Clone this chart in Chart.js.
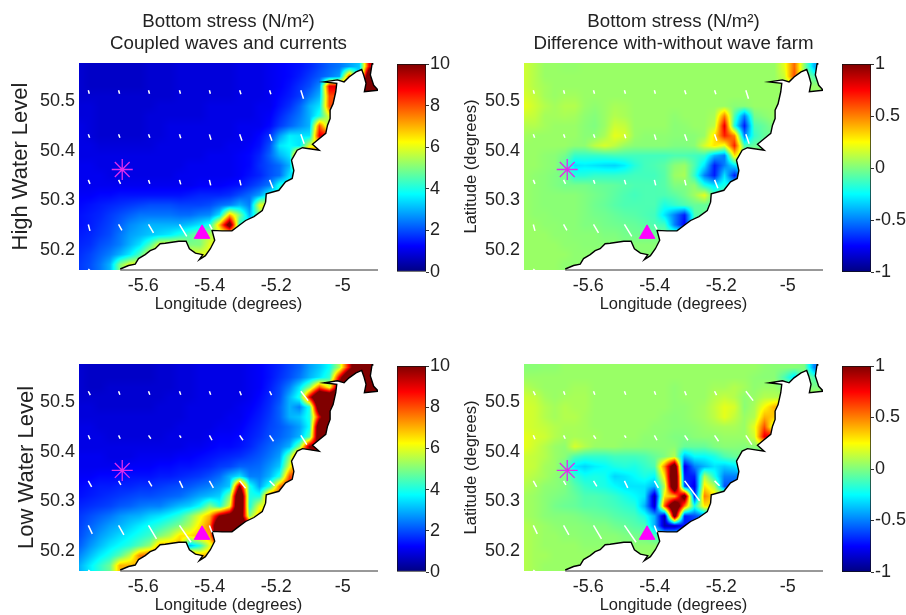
<!DOCTYPE html>
<html>
<head>
<meta charset="utf-8">
<style>
body { margin: 0; background: #fff; width: 906px; height: 615px; overflow: hidden; position: relative; }
canvas { position: absolute; }
</style>
<script src="https://cdn.jsdelivr.net/npm/chart.js@4/dist/chart.umd.min.js"></script>
</head>
<body>
<script>
// grid of the stress fields: rows run north to south, short rows repeat their last value over land
const gridLon = [-5.79,-5.76,-5.73,-5.70,-5.67,-5.64,-5.61,-5.58,-5.55,-5.52,-5.49,-5.46,-5.43,-5.40,-5.37,-5.34,-5.31,-5.28,-5.25,-5.22,-5.19,-5.16,-5.13,-5.10,-5.07,-5.04,-5.01,-4.98,-4.95,-4.92];
const gridLat = [50.57,50.55,50.53,50.51,50.49,50.47,50.45,50.43,50.41,50.39,50.37,50.35,50.33,50.31,50.29,50.27,50.25,50.23,50.21,50.19,50.17];

const highStress = [
[.8,.7,.7,.7,.7,.7,.7,.8,.8,.8,.9,.9,.9,.9,.9,.9,1,1,1,1.1,1.2,1.3,1.4,1.6,1.9,2.2,2.4,2.8,3.2,9],
[.8,.7,.7,.7,.7,.7,.7,.8,.8,.8,.9,.9,.9,.9,.9,.9,1,1,1,1.1,1.2,1.3,1.5,1.8,2.1,2.4,2.8,8,3,13],
[.8,.7,.7,.7,.7,.7,.7,.8,.8,.8,.9,.9,.9,.9,.9,.9,1,1,1,1.1,1.2,1.4,1.7,2,2.6,9,9,7,13,13],
[.8,.8,.8,.8,.8,.8,.8,.8,.8,.8,.9,.9,.9,.9,.9,.9,1,1,1,1.1,1.3,1.5,1.8,2.4,3,8,8,6,13,13],
[.9,.9,.8,.8,.8,.8,.8,.8,.9,.9,.9,.9,.9,1,1,1,1,1,1.1,1.1,1.4,1.7,2.2,3,3.5,8],
[.9,.9,.8,.8,.8,.8,.8,.9,.9,.9,.9,.9,.9,1,1,1,1,1,1.1,1.2,1.6,2,2.4,3,4,6],
[1,.9,.8,.8,.8,.8,.8,.9,.9,1,1,1,1,1,1,1,1.1,1.1,1.1,1.3,1.8,2.2,2.6,3,8,5],
[1,.9,.8,.8,.8,.8,.8,.9,.9,1,1,1,1,1,1,1,1.1,1.1,1.3,1.7,2.8,3.6,3.5,3.5,9],
[1,1,.9,.9,.9,.9,.9,.9,1,1,1,1,1,1,1,1.1,1.1,1.2,1.4,2,3.5,3.8,3.5,6],
[1,1,1,1,1,1,1,1,1,1,1,1,1,1.1,1.1,1.1,1.2,1.3,1.6,2.2,3,3.5,9],
[1.1,1.1,1,1,1,1,1,1,1,1,1,1.1,1.1,1.1,1.1,1.1,1.2,1.3,1.7,2,2.3,3,8],
[1.1,1.1,1.1,1,1,1,1,1,1,1,1.1,1.1,1.1,1.1,1.1,1.1,1.2,1.4,1.6,2,2.3,3.5,3],
[1.1,1.1,1.1,1.1,1.1,1.1,1.1,1.1,1.1,1.1,1.1,1.1,1.2,1.2,1.2,1.3,1.4,1.7,2,2.4,4],
[1.2,1.2,1.3,1.3,1.4,1.4,1.4,1.4,1.4,1.4,1.4,1.5,1.6,1.6,1.6,1.7,2,2.3,2.8,4],
[1.3,1.4,1.5,1.6,1.7,1.8,1.9,2,2,2,1.9,1.9,1.9,2,2.3,2.5,3,2.5,6],
[1.4,1.5,1.6,1.8,2,2.2,2.4,2.4,2.4,2.4,2.3,2.3,2.5,2.6,3.5,7,5,3,5],
[1.4,1.5,1.7,1.9,2.2,2.6,2.8,3,3,3,3,3.2,3.5,4,7,11,4],
[1.5,1.6,1.8,2,2.4,2.8,3,3.2,3.4,3.6,4,4.5,5,5.5],
[1.6,1.7,2,2.2,2.5,3,3.5,4.5,6,6,6,5,5,6],
[1.7,1.9,2.2,2.5,3,3.6,4.5,6],
[1.8,2,2.4,3,5,6]
];
const highDiff = [
[.15,.1,.05,.05,.04,.04,.05,.05,.05,.05,.05,.05,.05,.05,.05,.05,.05,.05,.05,.05,.05,.05,.05,.05,.05,.05,.2,.55,.02,-.4],
[.15,.1,.05,.05,.05,.05,.05,.05,.05,.05,.05,.05,.05,.05,.05,.05,.05,.05,.05,.05,.05,.05,.05,.05,.05,.05,.15,.6,.02,-.1],
[.15,.1,.07,.05,.05,.05,.05,.05,.05,.05,.05,.05,.05,.05,.05,.05,.05,.05,.05,.05,.05,.05,.05,.05,.05,.05],
[.17,.13,.07,.05,.07,.07,.05,.05,.05,.05,.05,.05,.05,.05,.05,.05,.05,.05,.05,.05,.05,.05,.05,.05,.05,.05],
[.2,.15,.1,.07,.1,.1,.05,.03,.05,.08,.07,.05,.05,.05,.05,.05,.05,.05,.05,.05,.05,.02,.02,.05,.05,.05],
[.15,.13,.07,.07,.08,.07,.03,.01,.05,.1,.08,.05,.05,.05,.05,.03,.05,.05,.05,.08,.5,-.1,-.5,-.02,.02,.05],
[.1,.1,.07,.05,.05,.05,.02,0,.05,.15,.13,.05,.05,.05,.05,.02,.03,.05,.05,.12,.8,-.2,-.7,-.1,-.05,.02],
[.07,.05,.05,.05,.05,.05,.02,.02,.08,.2,.17,.05,.03,.03,.03,.02,.02,.02,.05,.3,.7,.5,-.5,-.15,-.05],
[.05,.05,.05,.05,.05,.03,.03,.12,.17,.12,.05,.02,.02,.02,.02,0,0,.02,.17,.3,.2,.7,-.1,-.05],
[.05,.05,.03,.02,-.02,-.15,-.15,-.15,-.14,-.12,-.12,-.12,-.12,-.12,-.12,-.1,-.1,-.12,-.15,-.4,-.5,.3,.1],
[.05,.05,.03,.02,-.08,-.3,-.28,-.3,-.32,-.33,-.28,-.18,-.12,-.1,-.07,.02,.05,-.1,-.3,-.7,-.5,-.3,-.2],
[.05,.03,.02,0,-.02,-.18,-.18,-.15,-.15,-.15,-.14,-.12,-.12,-.12,-.08,.05,.08,-.15,-.5,-.7,-.3,-.7,-.3],
[.05,.03,.02,0,-.02,-.02,-.02,-.04,-.05,-.06,-.08,-.1,-.1,-.1,-.08,0,0,.03,-.2,-.3,-.2,-.3],
[.05,.03,.02,.02,.02,.02,0,-.02,-.04,-.07,-.1,-.12,-.1,-.1,-.1,-.07,-.02,.06,.2,-.1,-.05],
[.05,.03,.02,.02,.02,.02,0,-.03,-.05,-.08,-.1,-.1,-.1,-.1,-.2,-.15,-.1,-.05,-.05,-.07],
[.05,.03,.03,.02,.02,.02,0,-.02,-.03,-.05,-.07,-.08,-.1,-.12,-.3,-.5,-.7,-.1,-.05],
[.05,.05,.03,.03,.02,.02,0,0,-.02,-.03,-.04,-.05,-.07,-.1,-.12,-.5,-.75,-.1],
[.05,.05,.05,.03,.03,.02,.02,.02,0,0,-.02,-.03,-.03,-.03,-.03],
[.05,.05,.05,.05,.03,.03,.02,.02,.02,.02,0,.02,.02,.02],
[.05,.05,.05,.05,.05,.03,.03,.03,.02],
[.05,.05,.05,.05,.03]
];
const lowStress = [
[.8,.7,.7,.7,.7,.7,.7,.7,.8,.8,.9,.9,1,1,1,1,1,1.1,1.2,1.4,1.6,1.9,2.2,2.8,3.2,3.8,5.5,9,13,13],
[.8,.7,.7,.7,.7,.7,.7,.7,.8,.8,.9,.9,1,1,1,1,1,1.1,1.2,1.4,1.7,2,2.4,3,3.5,4.2,9,13,13,11],
[.8,.7,.7,.8,.8,.8,.8,.8,.8,.8,.9,.9,1,1,1,1,1,1.1,1.2,1.5,1.9,2.5,3.5,5,8,6,11,13,13,13],
[.8,.8,.8,.8,.8,.8,.8,.8,.8,.9,.9,.9,1,1,1,1,1,1.1,1.3,1.6,2,3,4,9,13,13,13],
[.9,.9,.8,.8,.8,.8,.8,.8,.9,.9,.9,1,1,1,1,1,1.1,1.2,1.4,1.7,2.2,3,2.5,4,12,13],
[.9,.9,.9,.9,.9,.9,.9,.9,.9,.9,.9,1,1,1,1,1.1,1.1,1.3,1.5,1.8,2.2,3,3.2,4,9,13],
[1,1,.9,.9,.9,.9,.9,.9,.9,.9,1,1,1,1,1.1,1.1,1.2,1.4,1.6,1.9,2.1,2.4,2.8,3.8,12,13],
[1,1,1,.9,.9,.9,.9,.9,.9,1,1,1,1,1.1,1.2,1.2,1.3,1.5,1.7,2,2.2,2.5,3,4.5,12],
[1,1,1,1,1,1,1,1,1,1,1,1.1,1.1,1.2,1.3,1.3,1.4,1.6,1.9,2.2,2.5,3,5,10],
[1.1,1.1,1.1,1,1,1,1.1,1.1,1.1,1.1,1.2,1.2,1.3,1.4,1.5,1.6,1.7,1.9,2.1,2.4,2.8,5,9],
[1.1,1.1,1.1,1.1,1.1,1.2,1.2,1.2,1.3,1.3,1.4,1.4,1.5,1.6,1.8,1.9,2.2,2.2,2.3,2.7,3.2,6,9],
[1.2,1.2,1.3,1.3,1.3,1.4,1.4,1.4,1.5,1.5,1.6,1.7,1.8,2,2.3,3,3.5,2.5,2.5,3,4,8],
[1.3,1.4,1.5,1.5,1.6,1.6,1.7,1.7,1.8,1.9,2,2.1,2.3,2.5,2.8,3.2,10,4,2.8,4,7.5,9],
[1.4,1.5,1.6,1.7,1.8,1.9,2,2,2.1,2.2,2.3,2.6,2.9,3.1,3.3,5,13,4,4,8],
[1.6,1.7,1.8,1.9,2.1,2.2,2.4,2.5,2.5,2.8,3.1,3.3,3.8,5,4,6,13,4,6],
[1.8,2,2.2,2.4,2.7,2.9,3,3.3,3.5,3.8,4.2,5,6,7,10,11,12,5,7],
[1.9,2.2,2.5,2.8,3,3.3,3.6,3.9,4.2,4.6,5,5.5,6.5,7.5,13,13,13,10],
[2,2.4,2.8,3.1,3.4,3.7,4,4.3,5,5.5,6.5,6.5,7,7,13],
[2.2,2.7,3.1,3.5,3.8,4.1,4.6,5.2,7,7,7,3,4,6],
[2.6,3.1,3.6,4,4.6,5.6,7.5,8,8,8,8,8,7],
[3,3.6,4.2,4.8,7]
];
const lowDiff = [
[.02,.02,.03,.03,.05,.05,.05,.05,.05,.05,.05,.05,.05,.05,.05,.05,.05,.05,.05,.05,.05,.05,.05,.05,.03,.02,.02,.02,0,-.5],
[.05,.05,.05,.05,.05,.05,.05,.05,.05,.05,.05,.05,.05,.05,.05,.05,.05,.05,.05,.05,.05,.05,.05,.03,.02,.02,-.1,-.3,.02,-.1],
[.1,.07,.05,.05,.05,.07,.07,.05,.05,.05,.05,.05,.05,.05,.05,.03,.05,.05,.05,.07,.07,.1,.07,.03,.05,.05,0],
[.15,.13,.07,.05,.07,.08,.08,.05,.05,.05,.05,.05,.05,.05,.05,.03,.05,.05,.05,.1,.13,.1,.03,.05,.1,.1],
[.17,.15,.1,.07,.1,.08,.08,.05,.05,.05,.05,.05,.05,.05,.05,.03,.03,.05,.07,.13,.2,.17,.02,.08,.25,.4],
[.17,.15,.1,.07,.1,.1,.07,.05,.05,.05,.05,.05,.05,.05,.03,.02,.03,.05,.07,.12,.2,.13,.05,.1,.4,.35],
[.17,.15,.13,.1,.08,.08,.07,.05,.05,.05,.05,.05,.05,.03,.03,.02,.02,.03,.05,.07,.08,.08,.05,.2,.6,.1],
[.2,.17,.15,.1,.07,.08,.07,.07,.05,.05,.05,.05,.03,.03,.02,0,0,.02,.03,.03,.05,.05,.05,.15,.8],
[.2,.15,.1,.05,.03,.17,.1,.05,.05,.05,.03,.03,.02,.02,.02,.02,-.05,-.05,-.05,0,.02,.02,.01,.02],
[.15,.13,.1,.05,.02,-.1,-.15,-.15,-.15,-.12,-.12,-.12,-.1,-.05,0,.1,-.4,-.25,-.25,-.2,-.1,-.05,-.03],
[.15,.13,.07,.05,-.05,-.28,-.33,-.28,-.25,-.2,-.18,-.2,-.15,-.1,.5,1.3,-.8,-.5,-.4,-.3,-.35,-.3,-.1],
[.13,.1,.07,.03,0,-.15,-.22,-.2,-.22,-.33,-.3,-.25,-.2,-.25,.3,1.5,-.7,-.7,.1,-.2,-.5,-.5],
[.1,.07,.03,.02,0,-.08,-.15,-.18,-.2,-.25,-.3,-.3,-.3,-.4,.1,1.5,-.6,-.8,.3,.1,-.6],
[.07,.05,.02,0,-.02,-.05,-.1,-.1,-.12,-.15,-.2,-.25,-.3,-.9,.3,.4,1.2,-.7,.5,.3],
[.07,.05,.02,-.02,-.04,-.05,-.08,-.08,-.1,-.12,-.15,-.18,-.4,-.85,.6,1.5,.5,-.2,.3],
[.07,.05,.02,.01,.01,0,-.02,-.04,-.05,-.08,-.1,-.12,-.2,-.4,-.9,1.2,-.7,-.6,-.5],
[.1,.07,.05,.03,.02,.02,.01,0,0,-.03,-.05,-.08,-.1,-.4,-.9,-.9,-.7],
[.1,.07,.05,.05,.03,.03,.02,.02,.02,.02,0,-.02,-.03,-.1,-.2],
[.1,.07,.05,.05,.05,.05,.03,.03,.03,.03,.02,.03,.03,.03],
[.1,.07,.07,.05,.05,.05,.05],
[.1,.07,.05,.05,.05]
];

// coastline, west to east, then round the estuary at the north-east end
const coastLon = [-5.669,-5.644,-5.624,-5.614,-5.594,-5.579,-5.564,-5.549,-5.534,-5.493,-5.471,-5.461,-5.443,-5.421,-5.431,-5.413,-5.398,-5.385,-5.393,-5.363,-5.333,-5.312,-5.292,-5.267,-5.242,-5.232,-5.230,-5.192,-5.172,-5.152,-5.147,-5.154,-5.137,-5.121,-5.071,-5.091,-5.071,-5.051,-5.046,-5.038,-5.038,-5.029,-5.021,-5.018,-5.056,-5.016,-4.996,-4.981,-4.960,-4.943,-4.937,-4.930,-4.935,-4.893,-4.907,-4.917,-4.912,-4.910];
const coastLat = [50.161,50.168,50.171,50.182,50.190,50.198,50.202,50.212,50.213,50.217,50.217,50.202,50.193,50.190,50.180,50.188,50.202,50.219,50.239,50.238,50.238,50.249,50.259,50.267,50.279,50.296,50.313,50.320,50.337,50.344,50.360,50.381,50.401,50.406,50.401,50.413,50.424,50.435,50.451,50.465,50.482,50.495,50.519,50.536,50.539,50.543,50.539,50.549,50.559,50.564,50.553,50.536,50.519,50.522,50.532,50.553,50.575,50.577];

// wave direction sticks: start positions, then offsets in thousandths of a degree
const arrowLon = [-5.765,-5.674,-5.584,-5.491,-5.401,-5.310,-5.220,-5.126];
const arrowLat = [50.522,50.433,50.341,50.251,50.161];
const arrowsHigh = [
[[3,7],[3,7],[3,7],[3,7],[3,7],[4,8],[4,8],[8,17]],
[[4,7],[4,7],[4,7],[4,8],[5,11],[7,13],[7,13],[10,19]],
[[5,8],[6,8],[4,8],[4,9],[4,11],[4,11],[10,17]],
[[5,13],[10,12],[15,17],[22,24],[8,10]],
[[5,3]]
];
const arrowsLow = [
[[6,8],[4,7],[4,7],[4,7],[4,7],[5,8],[6,8],[22,19]],
[[5,8],[5,7],[7,7],[5,5],[8,10],[10,10],[12,12],[18,19]],
[[10,12],[7,8],[10,11],[10,14],[12,14],[18,15],[15,10]],
[[12,17],[16,19],[24,27],[35,34],[8,14]],
[[5,3]]
];
const arrowsFarm = [
[[6,8],[4,7],[4,7],[4,7],[4,7],[5,8],[6,8],[22,19]],
[[5,8],[5,7],[7,7],[5,5],[8,10],[10,10],[12,12],[18,19]],
[[10,12],[7,8],[10,11],[10,14],[12,14],[45,40],[15,10]],
[[12,17],[16,19],[24,27],[35,34],[8,14]],
[[5,3]]
];

const starPoint = { x: -5.663, y: 50.362 };
const trianglePoint = { x: -5.423, y: 50.232 };

const lonTicks = [-5.6, -5.4, -5.2, -5];
const latTicks = [50.2, 50.3, 50.4, 50.5];
const stressTicks = [0, 2, 4, 6, 8, 10];
const diffTicks = [-1, -0.5, 0, 0.5, 1];

const lonRange = [-5.793, -4.894];
const latRange = [50.159, 50.577];

const FONT = "'Liberation Sans', Arial, sans-serif";
const INK = '#222';

// matlab jet, t in 0..1
function jet(t) {
    t = Math.max(0, Math.min(1, t));
    const r = Math.min(4 * t - 1.5, -4 * t + 4.5);
    const g = Math.min(4 * t - 0.5, -4 * t + 3.5);
    const b = Math.min(4 * t + 0.5, -4 * t + 2.5);
    return [r, g, b].map(c => Math.round(255 * Math.max(0, Math.min(1, c))));
}

function cell(grid, i, j) {
    const row = grid[Math.max(0, Math.min(gridLat.length - 1, j))];
    const k = Math.max(0, Math.min(gridLon.length - 1, i));
    return k < row.length ? row[k] : row[row.length - 1];
}

// interpolated shading, one image pixel per screen pixel, placed with the chart's scales
const shadePlugin = {
    id: 'shade',
    beforeDatasetsDraw(chart, args, opts) {
        const { ctx, chartArea: a, scales } = chart;
        const x0 = Math.round(a.left), y0 = Math.round(a.top);
        const w = Math.round(a.right - a.left), h = Math.round(a.bottom - a.top);
        const img = ctx.createImageData(w, h);
        const lonStep = gridLon[1] - gridLon[0], latStep = gridLat[0] - gridLat[1];
        for (let py = 0; py < h; py++) {
            const fj = (gridLat[0] - scales.y.getValueForPixel(y0 + py + 0.5)) / latStep;
            const j = Math.floor(fj), tj = fj - j;
            for (let px = 0; px < w; px++) {
                const fi = (scales.x.getValueForPixel(x0 + px + 0.5) - gridLon[0]) / lonStep;
                const i = Math.floor(fi), ti = fi - i;
                const v = (cell(opts.grid, i, j) * (1 - ti) + cell(opts.grid, i + 1, j) * ti) * (1 - tj)
                        + (cell(opts.grid, i, j + 1) * (1 - ti) + cell(opts.grid, i + 1, j + 1) * ti) * tj;
                const c = jet((v - opts.min) / (opts.max - opts.min));
                const o = (py * w + px) * 4;
                img.data[o] = c[0]; img.data[o + 1] = c[1]; img.data[o + 2] = c[2]; img.data[o + 3] = 255;
            }
        }
        ctx.putImageData(img, x0, y0);
    }
};

function makeCanvas(left, top, width, height) {
    const c = document.createElement('canvas');
    c.width = width; c.height = height;
    c.style.left = left + 'px'; c.style.top = top + 'px';
    document.body.appendChild(c);
    return c;
}

function stickPoints(sticks) {
    const pts = [];
    sticks.forEach((row, j) => row.forEach((s, i) => {
        pts.push({ x: arrowLon[i], y: arrowLat[j] });
        pts.push({ x: arrowLon[i] + s[0] / 1000, y: arrowLat[j] - s[1] / 1000 });
        pts.push({ x: null, y: null });
    }));
    return pts;
}

function drawPanel(p) {
    const coast = coastLon.map((x, i) => ({ x, y: coastLat[i] }));
    const land = coast.concat([{ x: lonRange[1], y: latRange[1] }, { x: lonRange[1], y: latRange[0] }, { x: coastLon[0], y: latRange[0] }, coast[0]]);
    const cells = [];
    gridLat.forEach((lat, j) => gridLon.forEach((lon, i) => cells.push({ x: lon, y: lat, v: cell(p.grid, i, j) })));

    new Chart(makeCanvas(p.left, p.top, 395, 314), {
        type: 'scatter',
        data: {
            datasets: [
                { data: [trianglePoint], pointStyle: 'triangle', pointRadius: 9, backgroundColor: '#ff00ff', borderColor: '#ff00ff' },
                { data: [starPoint], pointStyle: 'star', pointRadius: 10.5, borderColor: '#e02cec', pointBorderWidth: 1.3, backgroundColor: '#e02cec' },
                { data: stickPoints(p.sticks), showLine: true, pointRadius: 0, borderColor: '#fff', borderWidth: 1.5 },
                { data: coast, showLine: true, pointRadius: 0, borderColor: '#000', borderWidth: 1.4 },
                { data: [{ x: coastLon[0], y: latRange[0] }, { x: lonRange[1], y: latRange[0] }], showLine: true, pointRadius: 0, borderColor: '#333', borderWidth: 1, clip: false },
                { data: land, showLine: true, pointRadius: 0, borderWidth: 0, borderColor: '#fff', backgroundColor: '#fff', fill: 'shape' },
                { data: cells, pointRadius: 0 }
            ]
        },
        plugins: [shadePlugin],
        options: {
            responsive: false,
            animation: false,
            events: [],
            layout: { padding: { top: p.title ? 0 : 63, right: 17 } },
            plugins: {
                legend: { display: false },
                tooltip: { enabled: false },
                shade: { grid: p.grid, min: p.min, max: p.max },
                title: {
                    display: !!p.title,
                    text: p.title,
                    fullSize: false,
                    color: INK,
                    font: { family: FONT, size: 18.7, weight: 'normal', lineHeight: 1.17 },
                    padding: { top: 11, bottom: 8.3 }
                }
            },
            scales: {
                x: {
                    type: 'linear', min: lonRange[0], max: lonRange[1],
                    grid: { display: false, drawTicks: false }, border: { display: false },
                    afterBuildTicks: s => { s.ticks = lonTicks.map(value => ({ value })); },
                    afterFit: s => { s.height = 44; },
                    ticks: { color: INK, font: { family: FONT, size: 18 }, padding: 5, maxRotation: 0, autoSkip: false, callback: v => String(v) },
                    title: { display: true, text: 'Longitude (degrees)', color: INK, font: { family: FONT, size: 16.5 }, padding: 0 }
                },
                y: {
                    type: 'linear', min: latRange[0], max: latRange[1],
                    grid: { display: false, drawTicks: false }, border: { display: false },
                    afterBuildTicks: s => { s.ticks = latTicks.map(value => ({ value })); },
                    afterFit: s => { s.width = 79; },
                    ticks: { color: INK, font: { family: FONT, size: 18 }, padding: 4, autoSkip: false, callback: v => v.toFixed(1) },
                    title: { display: true, text: p.yTitle, color: INK, font: { family: FONT, size: p.yFont }, padding: { top: p.yPad, bottom: 0 } }
                }
            }
        }
    });
}

function drawColorbar(left, top, height, min, max, tickValues) {
    new Chart(makeCanvas(left, top, 71, height), {
        type: 'bar',
        data: {
            labels: ['scale'],
            datasets: [{
                data: [[min, max]],
                barPercentage: 1,
                categoryPercentage: 1,
                borderWidth: 1,
                borderColor: '#111',
                borderSkipped: false,
                backgroundColor: ctx => {
                    const a = ctx.chart.chartArea;
                    if (!a) return '#00f';
                    const g = ctx.chart.ctx.createLinearGradient(0, a.bottom, 0, a.top);
                    [0, .125, .375, .625, .875, 1].forEach(t => {
                        const c = jet(t);
                        g.addColorStop(t, 'rgb(' + c.join(',') + ')');
                    });
                    return g;
                }
            }]
        },
        options: {
            responsive: false,
            animation: false,
            events: [],
            layout: { padding: { left: 7, top: 12, bottom: 12 } },
            plugins: { legend: { display: false }, tooltip: { enabled: false } },
            scales: {
                x: { display: false },
                y: {
                    position: 'right', min, max,
                    grid: { drawOnChartArea: false, tickLength: 3, color: '#333' },
                    border: { display: false },
                    afterBuildTicks: s => { s.ticks = tickValues.map(value => ({ value })); },
                    afterFit: s => { s.width = 35; },
                    ticks: { color: INK, font: { family: FONT, size: 18 }, padding: 1, autoSkip: false, callback: v => String(v) }
                }
            }
        }
    });
}

const stressTitle = 'Bottom stress (N/m²)';

drawPanel({ left: 0, top: 0, grid: highStress, min: 0, max: 10, sticks: arrowsHigh, title: [stressTitle, 'Coupled waves and currents'], yTitle: 'High Water Level', yFont: 22, yPad: 8 });
drawPanel({ left: 445, top: 0, grid: highDiff, min: -1, max: 1, sticks: arrowsHigh, title: [stressTitle, 'Difference with-without wave farm'], yTitle: 'Latitude (degrees)', yFont: 16.5, yPad: 17 });
drawPanel({ left: 0, top: 301, grid: lowStress, min: 0, max: 10, sticks: arrowsLow, title: null, yTitle: 'Low Water Level', yFont: 22, yPad: 14 });
drawPanel({ left: 445, top: 301, grid: lowDiff, min: -1, max: 1, sticks: arrowsFarm, title: null, yTitle: 'Latitude (degrees)', yFont: 16.5, yPad: 17 });

drawColorbar(390, 52, 232, 0, 10, stressTicks);
drawColorbar(835, 52, 232, -1, 1, diffTicks);
drawColorbar(390, 354, 230, 0, 10, stressTicks);
drawColorbar(835, 354, 230, -1, 1, diffTicks);
</script>
</body>
</html>
